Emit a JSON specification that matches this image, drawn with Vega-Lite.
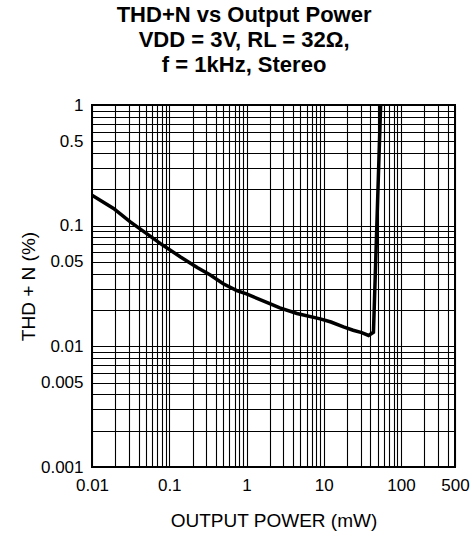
{
  "$schema": "https://vega.github.io/schema/vega-lite/v6.json",
  "width": 363,
  "height": 362,
  "autosize": {"type": "none"},
  "padding": {"left": 92, "top": 105, "right": 17, "bottom": 78},
  "background": "white",
  "title": {
    "text": ["THD+N vs Output Power", "VDD = 3V, RL = 32Ω,", "f = 1kHz, Stereo"],
    "font": "Liberation Sans",
    "fontSize": 22,
    "fontWeight": "bold",
    "lineHeight": 25,
    "color": "black",
    "frame": "bounds",
    "anchor": "middle",
    "offset": 19
  },
  "config": {
    "view": {"stroke": "black", "strokeWidth": 2},
    "axis": {
      "grid": true,
      "gridColor": "black",
      "gridOpacity": 1,
      "gridWidth": 1.1,
      "ticks": false,
      "domain": false,
      "labelFont": "Liberation Sans",
      "labelFontSize": 17,
      "labelColor": "black",
      "labelOverlap": false,
      "labelFlush": false,
      "titleFont": "Liberation Sans",
      "titleFontSize": 19,
      "titleFontWeight": "normal",
      "titleColor": "black"
    }
  },
  "data": {
    "values": [
      {"power": 0.01, "thd": 0.179},
      {"power": 0.019, "thd": 0.139},
      {"power": 0.031, "thd": 0.108},
      {"power": 0.051, "thd": 0.086},
      {"power": 0.077, "thd": 0.071},
      {"power": 0.14, "thd": 0.055},
      {"power": 0.23, "thd": 0.045},
      {"power": 0.34, "thd": 0.039},
      {"power": 0.5, "thd": 0.033},
      {"power": 0.75, "thd": 0.029},
      {"power": 1.0, "thd": 0.0272},
      {"power": 2.0, "thd": 0.0226},
      {"power": 2.7, "thd": 0.0208},
      {"power": 4.5, "thd": 0.0187},
      {"power": 9.0, "thd": 0.0169},
      {"power": 12.4, "thd": 0.0159},
      {"power": 18, "thd": 0.0145},
      {"power": 24, "thd": 0.0136},
      {"power": 31, "thd": 0.013},
      {"power": 38, "thd": 0.0123},
      {"power": 44, "thd": 0.0131},
      {"power": 54.5, "thd": 1.0}
    ]
  },
  "mark": {"type": "line", "color": "black", "strokeWidth": 3.5, "clip": true},
  "encoding": {
    "x": {
      "field": "power",
      "type": "quantitative",
      "scale": {"type": "log", "domain": [0.01, 500], "nice": false},
      "axis": {
        "title": "OUTPUT POWER (mW)",
        "values": [0.01, 0.02, 0.03, 0.04, 0.05, 0.06, 0.07, 0.08, 0.09, 0.1, 0.2, 0.3, 0.4, 0.5, 0.6, 0.7, 0.8, 0.9, 1, 2, 3, 4, 5, 6, 7, 8, 9, 10, 20, 30, 40, 50, 60, 70, 80, 90, 100, 200, 300, 400, 500],
        "labelExpr": "indexof([0.01, 0.1, 1, 10, 100, 500], datum.value) >= 0 ? '' + datum.value : ''",
        "labelPadding": 10,
        "titlePadding": 18
      }
    },
    "y": {
      "field": "thd",
      "type": "quantitative",
      "scale": {"type": "log", "domain": [0.001, 1], "nice": false},
      "axis": {
        "title": "THD + N (%)",
        "values": [0.001, 0.002, 0.003, 0.004, 0.005, 0.006, 0.007, 0.008, 0.009, 0.01, 0.02, 0.03, 0.04, 0.05, 0.06, 0.07, 0.08, 0.09, 0.1, 0.2, 0.3, 0.4, 0.5, 0.6, 0.7, 0.8, 0.9, 1],
        "labelExpr": "indexof([0.001, 0.005, 0.01, 0.05, 0.1, 0.5, 1], datum.value) >= 0 ? '' + datum.value : ''",
        "labelPadding": 9,
        "titleX": -58,
        "titleY": 181,
        "titleAngle": -90,
        "titleAlign": "center",
        "titleBaseline": "alphabetic"
      }
    }
  }
}
